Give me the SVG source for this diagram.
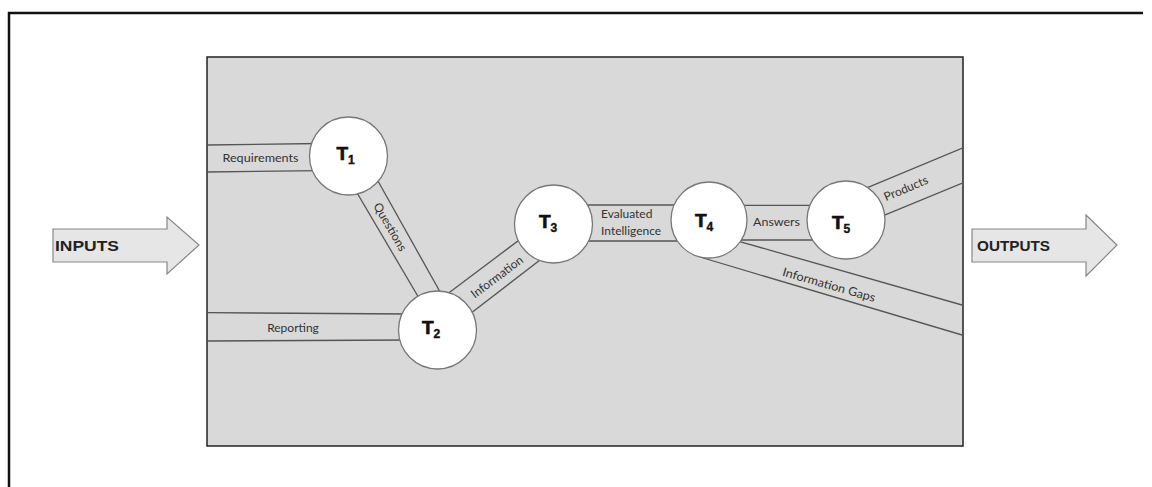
<svg xmlns="http://www.w3.org/2000/svg" width="1152" height="487" viewBox="0 0 1152 487">
<style>
.frame{fill:none;stroke:#111;stroke-width:2.5}
.panel{fill:#d9d9d9;stroke:#222;stroke-width:1.5}
.band{stroke:#555;stroke-width:1.3;fill:none}
.node{fill:#fff;stroke:#777;stroke-width:1.3}
.lbl{font-family:Lato,"Open Sans",sans-serif;font-size:12px;fill:#333}
.t{font-family:"Liberation Sans",Arial,sans-serif;font-weight:bold;font-size:19px;fill:#111;stroke:#111;stroke-width:0.7}
.t tspan{font-size:12px;stroke-width:0.4}
.arrow{fill:#e6e6e6;stroke:#888;stroke-width:1.2}
.io{font-family:"Liberation Sans",Arial,sans-serif;font-weight:bold;font-size:15px;fill:#222}
</style>
<defs>
<clipPath id="pc"><rect x="207" y="57" width="756" height="389"/></clipPath>
</defs>
<rect x="0" y="0" width="1152" height="487" fill="#fff"/>
<path class="frame" d="M9,490 V13 H1143"/>
<g id="inputs">
<polygon class="arrow" points="53,229 167,229 167,217 199,245 167,274 167,262 53,262"/>
<text class="io" x="55" y="251" textLength="64" lengthAdjust="spacingAndGlyphs">INPUTS</text>
</g>
<g id="outputs">
<polygon class="arrow" points="972,229 1086,229 1086,215 1117,245 1086,276 1086,262 972,262"/>
<text class="io" x="977" y="251" textLength="73" lengthAdjust="spacingAndGlyphs">OUTPUTS</text>
</g>
<rect class="panel" x="207" y="57" width="756" height="389"/>
<g id="connectors" clip-path="url(#pc)">
<line class="band" x1="207" y1="145" x2="320" y2="143.5"/>
<line class="band" x1="207" y1="172" x2="320" y2="170.7"/>
<line class="band" x1="346.5" y1="175" x2="426" y2="310"/>
<line class="band" x1="374.6" y1="175" x2="447.4" y2="305"/>
<line class="band" x1="207" y1="312.7" x2="410" y2="314"/>
<line class="band" x1="207" y1="341" x2="410" y2="340"/>
<line class="band" x1="440" y1="299.5" x2="530" y2="231.9"/>
<line class="band" x1="465" y1="317.7" x2="550" y2="252.3"/>
<line class="band" x1="580" y1="205" x2="690" y2="205"/>
<line class="band" x1="580" y1="241" x2="690" y2="241"/>
<line class="band" x1="730" y1="205.3" x2="830" y2="205.3"/>
<line class="band" x1="730" y1="240" x2="830" y2="240"/>
<line class="band" x1="850" y1="194.8" x2="963" y2="147.9"/>
<line class="band" x1="870" y1="221.2" x2="963" y2="182.9"/>
<line class="band" x1="730" y1="238.8" x2="963" y2="305.3"/>
<line class="band" x1="700" y1="257" x2="963" y2="335.3"/>
<text class="lbl" x="222.5" y="162" textLength="76" lengthAdjust="spacingAndGlyphs">Requirements</text>
<text class="lbl" transform="translate(390,227) rotate(60)" x="0" y="4" text-anchor="middle">Questions</text>
<text class="lbl" x="293" y="332" text-anchor="middle">Reporting</text>
<text class="lbl" transform="translate(497,277) rotate(-37)" x="0" y="4" text-anchor="middle">Information</text>
<text class="lbl" x="601" y="218">Evaluated</text>
<text class="lbl" x="601" y="235">Intelligence</text>
<text class="lbl" x="753" y="226" textLength="47" lengthAdjust="spacingAndGlyphs">Answers</text>
<text class="lbl" transform="translate(906,188.5) rotate(-23)" x="0" y="4" text-anchor="middle">Products</text>
<text class="lbl" transform="translate(829,285) rotate(16)" x="0" y="4" text-anchor="middle" textLength="96" lengthAdjust="spacingAndGlyphs">Information Gaps</text>
</g>
<g id="T1"><circle class="node" cx="348.5" cy="156" r="39"/><text class="t" x="336.5" y="160">T<tspan dy="4">1</tspan></text></g>
<g id="T2"><circle class="node" cx="437.5" cy="330" r="39"/><text class="t" x="422" y="334">T<tspan dy="4">2</tspan></text></g>
<g id="T3"><circle class="node" cx="553.5" cy="224" r="39"/><text class="t" x="539" y="228">T<tspan dy="4">3</tspan></text></g>
<g id="T4"><circle class="node" cx="709" cy="220" r="38"/><text class="t" x="695" y="227">T<tspan dy="4">4</tspan></text></g>
<g id="T5"><circle class="node" cx="846" cy="220" r="39"/><text class="t" x="832" y="229">T<tspan dy="4">5</tspan></text></g>
</svg>
